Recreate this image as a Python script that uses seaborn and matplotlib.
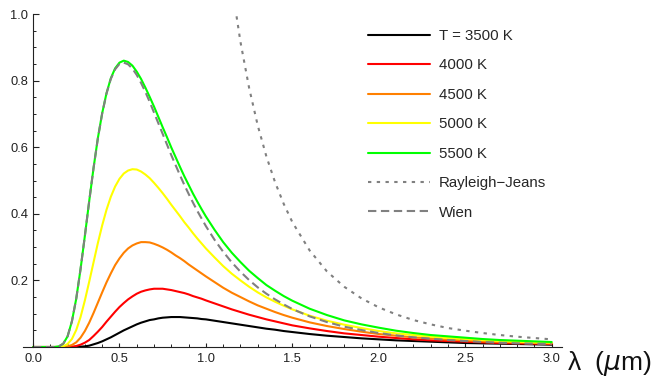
import numpy as np
import pandas as pd
import seaborn as sns
import matplotlib
matplotlib.use("Agg")
import matplotlib.pyplot as plt
from matplotlib.ticker import MultipleLocator
from matplotlib.lines import Line2D

# wavelength grid (um)
lam = [0.0, 0.1, 0.125, 0.15, 0.175, 0.2, 0.225, 0.25, 0.275, 0.3, 0.325, 0.35,
       0.375, 0.4, 0.425, 0.45, 0.475, 0.5, 0.525, 0.55, 0.575, 0.6, 0.625, 0.65,
       0.675, 0.7, 0.725, 0.75, 0.775, 0.8, 0.825, 0.85, 0.875, 0.9, 0.925, 0.95,
       0.975, 1.0, 1.05, 1.1, 1.15, 1.2, 1.25, 1.3, 1.35, 1.4, 1.45, 1.5, 1.6, 1.7,
       1.8, 1.9, 2.0, 2.1, 2.2, 2.3, 2.4, 2.5, 2.6, 2.7, 2.8, 2.9, 3.0]

t3500 = [0.000, 0.000, 0.000, 0.000, 0.000, 0.000, 0.000, 0.000, 0.001, 0.002, 0.004, 0.008,
         0.012, 0.017, 0.023, 0.029, 0.036, 0.043, 0.050, 0.056, 0.062, 0.068, 0.073, 0.077,
         0.081, 0.083, 0.086, 0.088, 0.089, 0.090, 0.090, 0.090, 0.089, 0.088, 0.087, 0.086,
         0.084, 0.083, 0.079, 0.075, 0.071, 0.067, 0.063, 0.059, 0.055, 0.052, 0.048, 0.045,
         0.039, 0.034, 0.030, 0.026, 0.023, 0.020, 0.018, 0.016, 0.014, 0.012, 0.011, 0.010,
         0.009, 0.008, 0.007]
t4000 = [0.000, 0.000, 0.000, 0.000, 0.000, 0.000, 0.001, 0.003, 0.007, 0.013, 0.021, 0.033,
         0.046, 0.060, 0.076, 0.091, 0.106, 0.120, 0.132, 0.143, 0.152, 0.160, 0.166, 0.170,
         0.173, 0.175, 0.175, 0.175, 0.173, 0.171, 0.168, 0.165, 0.162, 0.158, 0.153, 0.149,
         0.145, 0.140, 0.131, 0.122, 0.113, 0.105, 0.097, 0.090, 0.083, 0.077, 0.071, 0.065,
         0.056, 0.048, 0.041, 0.036, 0.031, 0.027, 0.023, 0.020, 0.018, 0.016, 0.014, 0.012,
         0.011, 0.010, 0.009]
t4500 = [0.000, 0.000, 0.000, 0.000, 0.000, 0.002, 0.006, 0.014, 0.028, 0.048, 0.073, 0.102,
         0.133, 0.164, 0.194, 0.221, 0.246, 0.266, 0.283, 0.296, 0.305, 0.311, 0.315, 0.315,
         0.314, 0.310, 0.305, 0.299, 0.292, 0.284, 0.275, 0.267, 0.258, 0.248, 0.239, 0.230,
         0.221, 0.212, 0.195, 0.178, 0.163, 0.150, 0.137, 0.125, 0.115, 0.105, 0.096, 0.088,
         0.074, 0.063, 0.054, 0.046, 0.039, 0.034, 0.029, 0.026, 0.022, 0.020, 0.017, 0.015,
         0.014, 0.012, 0.011]
t5000 = [0.000, 0.000, 0.000, 0.000, 0.002, 0.009, 0.024, 0.051, 0.090, 0.140, 0.196, 0.254,
         0.312, 0.365, 0.412, 0.451, 0.482, 0.505, 0.521, 0.530, 0.534, 0.533, 0.527, 0.518,
         0.507, 0.493, 0.478, 0.462, 0.445, 0.427, 0.410, 0.393, 0.375, 0.359, 0.342, 0.326,
         0.311, 0.296, 0.269, 0.243, 0.220, 0.200, 0.181, 0.164, 0.149, 0.136, 0.124, 0.113,
         0.094, 0.079, 0.067, 0.057, 0.048, 0.041, 0.036, 0.031, 0.027, 0.024, 0.021, 0.018,
         0.016, 0.014, 0.013]
t5500 = [0.000, 0.000, 0.000, 0.002, 0.010, 0.032, 0.077, 0.145, 0.234, 0.334, 0.438, 0.537,
         0.627, 0.702, 0.762, 0.807, 0.837, 0.854, 0.860, 0.856, 0.845, 0.827, 0.805, 0.779,
         0.751, 0.722, 0.691, 0.660, 0.630, 0.599, 0.570, 0.541, 0.513, 0.487, 0.461, 0.437,
         0.414, 0.392, 0.352, 0.315, 0.283, 0.255, 0.229, 0.207, 0.186, 0.169, 0.153, 0.139,
         0.115, 0.096, 0.080, 0.068, 0.058, 0.049, 0.042, 0.036, 0.032, 0.028, 0.024, 0.021,
         0.019, 0.017, 0.015]
wien = [0.000, 0.000, 0.000, 0.002, 0.010, 0.032, 0.077, 0.145, 0.234, 0.334, 0.438, 0.537,
        0.626, 0.701, 0.761, 0.805, 0.834, 0.850, 0.854, 0.849, 0.836, 0.817, 0.793, 0.766,
        0.736, 0.704, 0.672, 0.640, 0.608, 0.576, 0.546, 0.516, 0.487, 0.460, 0.434, 0.409,
        0.386, 0.363, 0.322, 0.286, 0.254, 0.226, 0.201, 0.179, 0.160, 0.143, 0.128, 0.114,
        0.092, 0.075, 0.061, 0.051, 0.042, 0.035, 0.029, 0.025, 0.021, 0.018, 0.015, 0.013,
        0.011, 0.010, 0.009]

# Rayleigh-Jeans only on the long-wavelength side (goes off the top)
lam_rj = [1.1, 1.15, 1.2, 1.25, 1.3, 1.35, 1.4, 1.45, 1.5, 1.6, 1.7, 1.8, 1.9, 2.0,
          2.1, 2.2, 2.3, 2.4, 2.5, 2.6, 2.7, 2.8, 2.9, 3.0]
rj = [1.298, 1.086, 0.916, 0.778, 0.665, 0.572, 0.495, 0.430, 0.375, 0.290, 0.227, 0.181,
      0.146, 0.119, 0.098, 0.081, 0.068, 0.057, 0.049, 0.042, 0.036, 0.031, 0.027, 0.023]

labels = ["T = 3500 K", "4000 K", "4500 K", "5000 K", "5500 K", "Rayleigh\u2212Jeans", "Wien"]
colors = ["#000000", "#ff0000", "#ff8000", "#ffff00", "#00ff00", "#808080", "#808080"]

sns.set_style("white")
plt.rcParams["font.family"] = ["Liberation Sans", "DejaVu Sans"]

fig = plt.figure(figsize=(6.56, 3.76), dpi=100)
ax = fig.add_axes([0.0345, 0.0771, 0.8223, 0.8856])

lw = 1.5
planck = [t3500, t4000, t4500, t5000, t5500]
for vals, c in zip(planck, colors[:5]):
    sns.lineplot(x=lam, y=vals, color=c, lw=lw, ax=ax)
sns.lineplot(x=lam_rj, y=rj, color=colors[5], lw=lw, ax=ax)
ax.lines[-1].set_dashes((1.6, 2.6))
sns.lineplot(x=lam, y=wien, color=colors[6], lw=lw, ax=ax)
ax.lines[-1].set_dashes((4, 2.2))

ax.set_xlim(-0.06, 3.06)
ax.set_ylim(0, 1.0)

for s in ["top", "right"]:
    ax.spines[s].set_visible(False)
ax.spines["left"].set_position(("data", 0))
for s in ["left", "bottom"]:
    ax.spines[s].set_linewidth(0.8)
    ax.spines[s].set_color("#222222")

ax.xaxis.set_minor_locator(MultipleLocator(0.1))
ax.yaxis.set_minor_locator(MultipleLocator(0.05))
ax.set_xticks([0.0, 0.5, 1.0, 1.5, 2.0, 2.5, 3.0])
ax.set_xticklabels(["0.0", "0.5", "1.0", "1.5", "2.0", "2.5", "3.0"])
ax.set_yticks([0.2, 0.4, 0.6, 0.8, 1.0])
ax.set_yticklabels(["0.2", "0.4", "0.6", "0.8", "1.0"])
ax.tick_params(axis="x", which="major", direction="in", length=3.2, width=0.8,
               labelsize=9.3, pad=4, colors="#222222", bottom=True)
ax.tick_params(axis="x", which="minor", direction="in", length=1.9, width=0.7,
               colors="#222222", bottom=True)
ax.tick_params(axis="y", which="major", direction="in", length=4.2, width=0.8,
               labelsize=9.3, pad=3.5, colors="#222222", left=True)
ax.tick_params(axis="y", which="minor", direction="in", length=2.4, width=0.7,
               colors="#222222", left=True)

fig.text(567 / 656, 1 - 363 / 376, "\u03bb  ($\\mu$m)", fontsize=19,
         ha="left", va="center", color="#111111")

handles = []
for i, (lab, c) in enumerate(zip(labels, colors)):
    h = Line2D([], [], color=c, lw=lw)
    if i == 5:
        h.set_dashes((1.6, 2.6))
    if i == 6:
        h.set_dashes((4, 2.2))
    handles.append(h)
fig.legend(handles, labels, loc="upper left", bbox_to_anchor=(368 / 656, 1 - 29 / 376),
           frameon=False, fontsize=10.8, handlelength=4.1, handletextpad=0.6,
           labelspacing=1.03, borderpad=0, borderaxespad=0)

fig.savefig("out.png", dpi=100)
plt.close(fig)
